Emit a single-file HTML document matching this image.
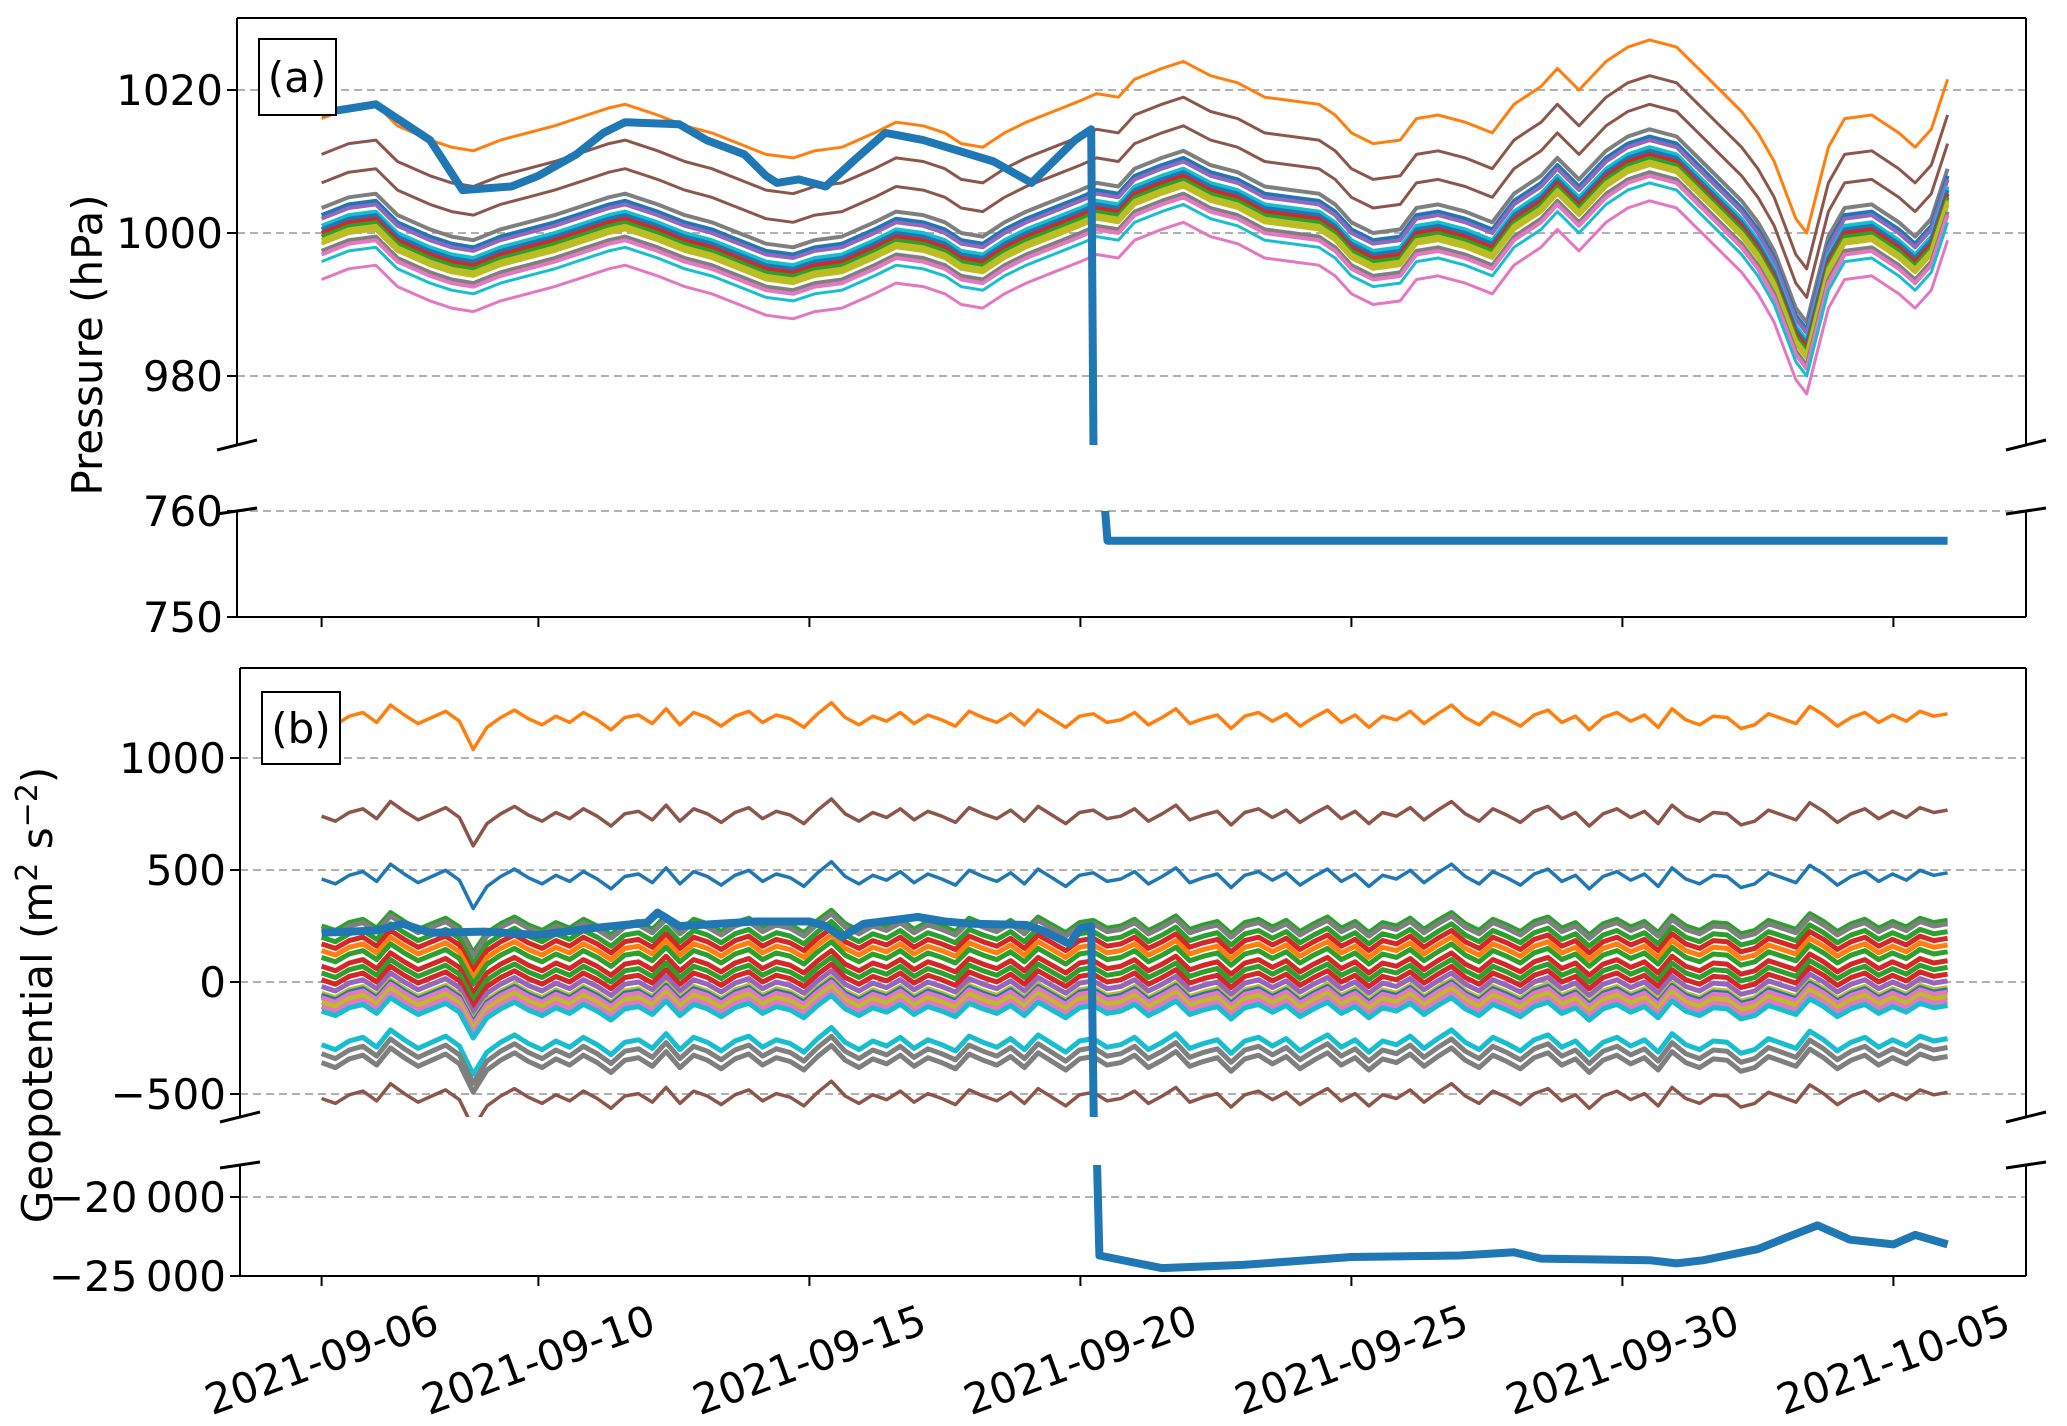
<!DOCTYPE html>
<html><head><meta charset="utf-8"><style>
html,body{margin:0;padding:0;background:#fff}
svg{display:block;font-family:"DejaVu Sans","Liberation Sans",sans-serif}
</style></head><body>
<svg id="chart" width="2067" height="1426" viewBox="0 0 2067 1426" xmlns="http://www.w3.org/2000/svg">
<defs>
<clipPath id="ca1"><rect x="237" y="18" width="1789" height="427"/></clipPath>
<clipPath id="ca2"><rect x="237" y="511" width="1789" height="106"/></clipPath>
<clipPath id="cb1"><rect x="240" y="668" width="1786" height="449"/></clipPath>
<clipPath id="cb2"><rect x="240" y="1165" width="1786" height="111"/></clipPath>
</defs>
<g id="grid"></g>
<g id="series"></g>
<g id="axes"></g>
</svg>
<script>
// ---------- data ----------
const xTickLabels = ["2021-09-06","2021-09-10","2021-09-15","2021-09-20","2021-09-25","2021-09-30","2021-10-05"];
const xTickDays = [0,4,9,14,19,24,29];
const pTicksUpper = [980,1000,1020];
const pTicksLower = [750,760];
const gTicksUpper = [-500,0,500,1000];
const gTicksLower = [-25000,-20000];
const pBaseDays = [0,0.5,1,1.4,2,2.4,2.8,3.3,3.8,4.3,4.9,5.3,5.6,6.2,6.7,7.2,7.7,8.2,8.7,9.1,9.6,10.2,10.6,11.1,11.5,11.8,12.2,12.6,13.0,13.5,14.0,14.3,14.7,15.0,15.5,15.9,16.4,16.9,17.4,17.9,18.4,18.7,19.0,19.4,19.9,20.2,20.6,21.1,21.6,22.0,22.2,22.5,22.8,23.2,23.7,24.1,24.5,25.0,25.4,25.8,26.2,26.5,26.8,27.0,27.2,27.4,27.6,27.8,28.1,28.6,29.1,29.4,29.7,30.0];
const pBaseVals = [1016,1017.5,1018,1015,1013,1012,1011.5,1013,1014,1015,1016.5,1017.5,1018,1016.5,1015,1014,1012.5,1011,1010.5,1011.5,1012,1014,1015.5,1015,1014,1012.5,1012,1014,1015.5,1017,1018.5,1019.5,1019,1021.5,1023,1024,1022,1021,1019,1018.5,1018,1016.5,1014,1012.5,1013,1016,1016.5,1015.5,1014,1018,1019,1020.5,1023,1020,1024,1026,1027,1026,1023,1020,1017,1014,1010,1006,1002,1000,1006,1012,1016,1016.5,1014,1012,1014.5,1021.5];
const pOffsets = [0,-5,-9,-12.5,-13.5,-14,-15,-15.5,-16,-16.5,-17,-17.5,-18.5,-19,-20,-22.5];
const pColors = ["#ff7f0e","#8c564b","#8c564b","#7f7f7f","#1f77b4","#9467bd","#17becf","#1f77b4","#d62728","#2ca02c","#bcbd22","#bcbd22","#7f7f7f","#e377c2","#17becf","#e377c2"];
const pBlueUpperDays = [0,1,2,2.6,3.5,4,4.7,5.2,5.6,6.6,7.1,7.8,8.2,8.4,8.8,9.3,9.8,10.4,11.1,12.4,13.1,13.9,14.2,14.25];
const pBlueUpperVals = [1016.8,1018,1013,1006,1006.5,1008,1011,1014,1015.5,1015.2,1013,1011,1008,1007,1007.5,1006.5,1010,1014,1013,1010,1007,1013,1014.5,960];
const pBlueLowerDays = [14.3,14.5,30];
const pBlueLowerVals = [770,757.2,757.2];
const gNoise = [0,-20,15,30,-10,60,20,-15,10,35,-5,-120,-30,10,40,5,-20,15,-10,30,0,-40,10,20,-15,45,-20,30,10,-25,15,35,-10,20,5,-30,25,70,10,-20,15,-5,30,-15,20,0,-25,35,10,-10,25,-20,40,5,-30,15,25,-10,0,30,-20,10,45,-15,5,20,-35,15,30,-5,25,-25,10,40,-10,20,-30,15,0,35,-15,25,60,10,-20,30,5,-25,20,40,-10,15,-40,10,30,-5,20,-30,45,0,-20,15,10,-35,-20,25,5,-15,55,20,-25,10,30,-10,20,-5,35,15,25];
const gLevels = [1170,740,460,250,235,200,170,140,110,70,40,10,-20,-50,-60,-70,-90,-110,-130,-280,-320,-360,-520];
const gColors = ["#ff7f0e","#8c564b","#1f77b4","#2ca02c","#7f7f7f","#2ca02c","#d62728","#ff7f0e","#2ca02c","#d62728","#2ca02c","#d62728","#9467bd","#bcbd22","#1f77b4","#e377c2","#bcbd22","#e377c2","#17becf","#17becf","#7f7f7f","#7f7f7f","#8c564b"];
const gBlueUpperDays = [0,1,1.5,2,3,4,5,6,6.2,6.6,7,8,9,9.3,9.6,10,11,11.5,12,13,13.3,13.8,14,14.2,14.25];
const gBlueUpperVals = [220,230,260,220,225,210,240,265,310,250,255,270,270,250,200,260,290,270,260,255,230,170,240,250,-700];
const gBlueLowerDays = [14.3,14.35,15.5,17,19,21,22,22.5,24.5,25,25.5,26.5,27,27.6,28.2,29,29.4,30];
const gBlueLowerVals = [-17000,-23700,-24500,-24300,-23800,-23700,-23500,-23900,-24000,-24200,-24000,-23300,-22600,-21800,-22700,-23000,-22400,-23000];

// ---------- scales ----------
const NS = "http://www.w3.org/2000/svg";
const X0 = 321.6, PXD = 54.2;
const FS = 42;
function xs(d){return X0 + d*PXD;}
function ya1(v){return 90 + (1020-v)*7.15;}
function ya2(v){return 511 + (760-v)*10.6;}
function yb1(v){return 982 - v*0.224;}
function yb2(v){return 1197 - (v+20000)*0.0158;}
function mk(tag, attrs, parent){const e=document.createElementNS(NS,tag);for(const k in attrs)e.setAttribute(k,attrs[k]);parent.appendChild(e);return e;}
const grid=document.getElementById('grid'), series=document.getElementById('series'), axes=document.getElementById('axes');
function pathFrom(days, vals, ys){return days.map((d,i)=>(i?'L':'M')+xs(d).toFixed(1)+','+ys(vals[i]).toFixed(1)).join('');}

function hgrid(y,x1,name){
  const l=mk('line',{x1:x1,x2:2026,y1:y,y2:y,stroke:'#b0b0b0','stroke-width':2,'stroke-dasharray':'8,5'},grid);
  
  
}
pTicksUpper.forEach(v=>hgrid(ya1(v),237,'grid-p-'+v));
hgrid(ya2(760),237,'grid-p-760');
gTicksUpper.forEach(v=>hgrid(yb1(v),240,'grid-g-'+v));
hgrid(yb2(-20000),240,'grid-g-20000');

const ga1=mk('g',{'clip-path':'url(#ca1)'},series);


pOffsets.forEach((off,i)=>{
  const vals=pBaseVals.map(v=>v+off);
  const p=mk('path',{d:pathFrom(pBaseDays,vals,ya1),fill:'none',stroke:pColors[i],'stroke-width':(i>=3&&i<=13)?4:3,'stroke-linejoin':'round'},ga1);
  
  
});
const pb1=mk('path',{d:pathFrom(pBlueUpperDays,pBlueUpperVals,ya1),fill:'none',stroke:'#1f77b4','stroke-width':8,'stroke-linejoin':'round'},ga1);


const ga2=mk('g',{'clip-path':'url(#ca2)'},series);


const pb2=mk('path',{d:pathFrom(pBlueLowerDays,pBlueLowerVals,ya2),fill:'none',stroke:'#1f77b4','stroke-width':8,'stroke-linejoin':'round'},ga2);



const gb1=mk('g',{'clip-path':'url(#cb1)'},series);


const nStep=30/(gNoise.length-1);
const nDays=gNoise.map((_,i)=>i*nStep);
gLevels.forEach((lv,i)=>{
  const vals=gNoise.map(n=>lv+n*(i<3||i>=19?1.1:1.0));
  const p=mk('path',{d:pathFrom(nDays,vals,yb1),fill:'none',stroke:gColors[i],'stroke-width':(i>=3&&i<=21)?5:3.5,'stroke-linejoin':'round'},gb1);
  
  
});
const gbl=mk('path',{d:pathFrom(gBlueUpperDays,gBlueUpperVals,yb1),fill:'none',stroke:'#1f77b4','stroke-width':8,'stroke-linejoin':'round'},gb1);


const gb2=mk('g',{'clip-path':'url(#cb2)'},series);


const gbl2=mk('path',{d:pathFrom(gBlueLowerDays,gBlueLowerVals,yb2),fill:'none',stroke:'#1f77b4','stroke-width':8,'stroke-linejoin':'round'},gb2);



function line(x1,y1,x2,y2,w,name){const l=mk('line',{x1:x1,y1:y1,x2:x2,y2:y2,stroke:'#000','stroke-width':w},axes);return l;}
function frame(xl,top,bot,lowTop,lowBot,pfx){
  line(xl,top,2026,top,2,pfx+'-top-spine');
  line(xl,top,xl,bot,2,pfx+'-left-spine');
  line(2026,top,2026,bot,2,pfx+'-right-spine');
  line(xl,lowTop,xl,lowBot,2,pfx+'-left-spine-lower');
  line(2026,lowTop,2026,lowBot,2,pfx+'-right-spine-lower');
  line(xl,lowBot,2026,lowBot,2,pfx+'-bottom-spine');
  [xl,2026].forEach(x=>{line(x-20,bot+5,x+20,bot-5,3,pfx+'-break-mark');line(x-20,lowTop+3,x+20,lowTop-3,3,pfx+'-break-mark');});
}
frame(237,18,445,511,617,'panel-a');
frame(240,668,1117,1165,1276,'panel-b');
function ytick(xl,y,label,name){
  line(xl-10,y,xl,y,2,name+'-tick');
  const t=mk('text',{x:xl-14,y:y+15,'text-anchor':'end','font-size':FS,fill:'#000'},axes);
  t.textContent=label;
  
  
}
pTicksUpper.forEach(v=>ytick(237,ya1(v),String(v),'p-ytick-'+v));
pTicksLower.forEach(v=>ytick(237,ya2(v),String(v),'p-ytick-'+v));
gTicksUpper.forEach(v=>ytick(240,yb1(v),v<0?'\u2212'+Math.abs(v):String(v),'g-ytick-'+v));
gTicksLower.forEach(v=>ytick(240,yb2(v),'\u2212'+String(Math.abs(v)).replace(/(\d\d)(\d{3})$/,'$1\u2009$2'),'g-ytick-'+v));
xTickDays.forEach((d,i)=>{
  const x=xs(d);
  line(x,617,x,627,2,'a-xtick-'+i);
  line(x,1276,x,1286,2,'b-xtick-'+i);
  const t=mk('text',{x:x,y:1360,'text-anchor':'middle','dominant-baseline':'central','font-size':FS,fill:'#000',transform:'rotate(-20 '+x+' 1360)'},axes);
  t.textContent=xTickLabels[i];
  
  
});
</script>
<script>
const svg=document.getElementById('chart');
const N2="http://www.w3.org/2000/svg";
function addEl(tag,attrs,txt){const e=document.createElementNS(N2,tag);for(const k in attrs)e.setAttribute(k,attrs[k]);if(txt)e.textContent=txt;svg.appendChild(e);return e;}
const ra=addEl('rect',{x:259,y:39,width:77,height:76,fill:'#fff',stroke:'#000','stroke-width':2});


const ta=addEl('text',{x:297,y:92,'text-anchor':'middle','font-size':42},'(a)');


const rb=addEl('rect',{x:262,y:692,width:78,height:72,fill:'#fff',stroke:'#000','stroke-width':2});


const tb=addEl('text',{x:301,y:743,'text-anchor':'middle','font-size':42},'(b)');


const yl=addEl('text',{x:0,y:0,'text-anchor':'middle','font-size':42,transform:'translate(102,345) rotate(-90)'},'Pressure (hPa)');


const gl=document.createElementNS(N2,'text');
gl.setAttribute('text-anchor','middle');gl.setAttribute('font-size','42');
gl.setAttribute('transform','translate(52,995) rotate(-90)');
gl.innerHTML='Geopotential (m<tspan dy="-15" font-size="30">2</tspan><tspan dy="15"> s</tspan><tspan dy="-15" font-size="30">\u22122</tspan><tspan dy="15">)</tspan>';
svg.appendChild(gl);


</script>
</body></html>
